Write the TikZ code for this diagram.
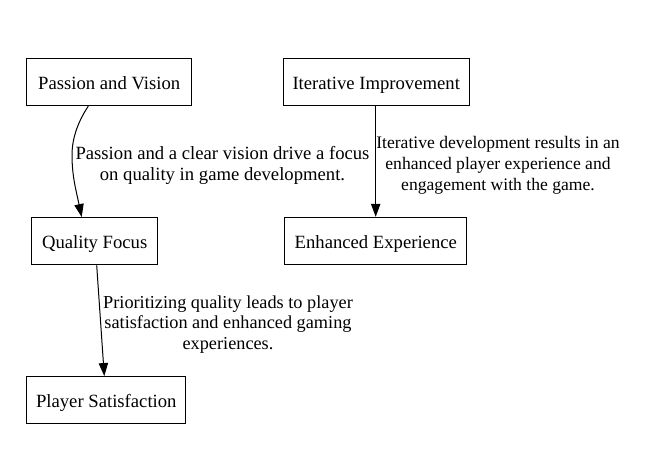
\documentclass[tikz,border=0pt]{standalone}
\usepackage{fontspec}
\setmainfont{Liberation Serif}
\usetikzlibrary{arrows.meta}
\tikzset{
  box/.style={draw=black, line width=0.75pt, inner sep=0pt, minimum height=35.5pt, text height=12pt, text depth=1.5pt, font=\fontsize{14}{16}\selectfont},
  lbl/.style={align=center, inner sep=0pt, font=\fontsize{14}{15.6}\selectfont},
  edge/.style={draw=black, line width=0.75pt, -{Triangle[length=9.75pt,width=7pt]}}
}
\begin{document}
\begin{tikzpicture}[x=0.75pt,y=-0.75pt]
\useasboundingbox (0,0) rectangle (655,451);
\node[box, minimum width=123.75pt] (pv) at (109.2,82) {Passion and Vision};
\node[box, minimum width=139.5pt] (ii) at (376.2,82) {Iterative Improvement};
\node[box, minimum width=94.5pt] (qf) at (94.7,241.2) {Quality Focus};
\node[box, minimum width=136.5pt] (ee) at (375.8,241) {Enhanced Experience};
\node[box, minimum width=119.25pt] (ps) at (106.3,400.2) {Player Satisfaction};
\draw[edge] (pv.south -| 88.3,0) .. controls (79,120) and (72,137) .. (72,155) .. controls (72,176) and (76,190) .. (qf.north -| 81.7,0);
\draw[edge] (ii.south -| 375.7,0) -- (ee.north -| 375.7,0);
\draw[edge] (qf.south -| 96.7,0) -- (ps.north -| 104.3,0);
\node[lbl] (l1) at (222.5,165.5) {Passion and a clear vision drive a focus\\on quality in game development.};
\node[lbl, font=\fontsize{13.2}{15.6}\selectfont] (l2) at (498,165) {Iterative development results in an\\enhanced player experience and\\engagement with the game.};
\node[lbl, font=\fontsize{13.7}{15.6}\selectfont] (l3) at (228,324.5) {Prioritizing quality leads to player\\satisfaction and enhanced gaming\\experiences.};
\end{tikzpicture}
\end{document}
